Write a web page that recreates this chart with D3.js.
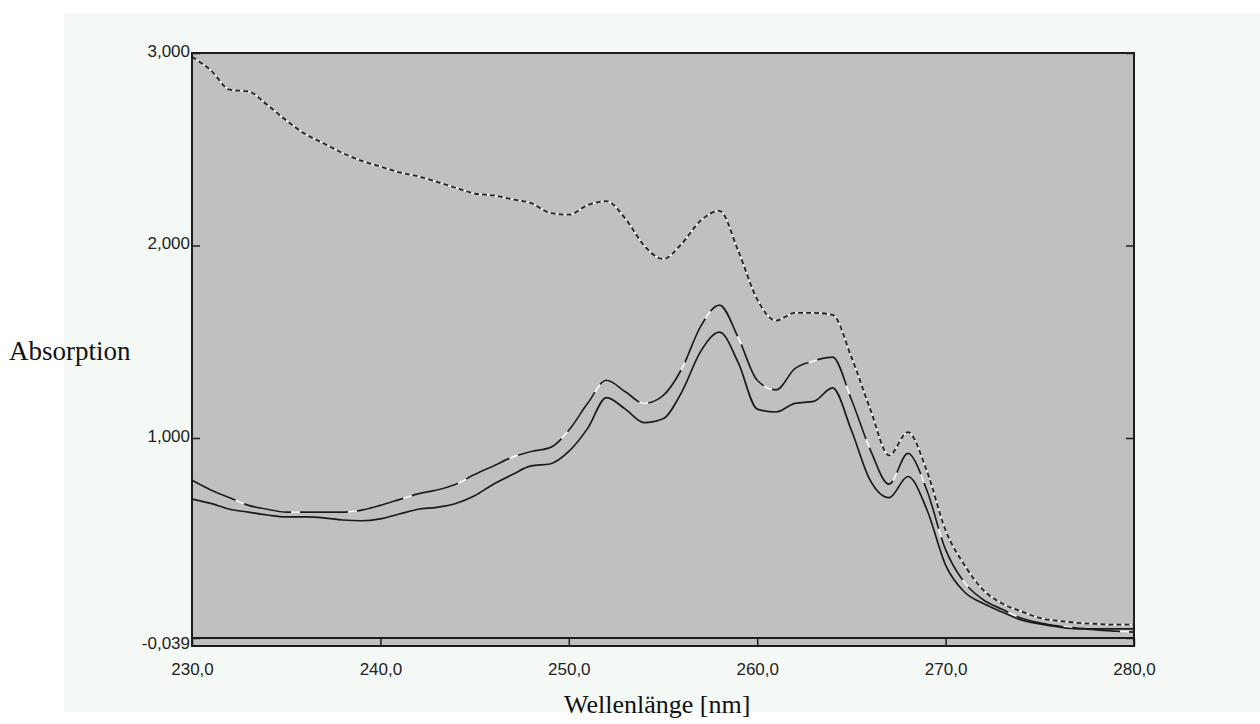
<!DOCTYPE html>
<html>
<head>
<meta charset="utf-8">
<script src="https://cdn.jsdelivr.net/npm/d3@7"></script>
<style>
    body { margin: 0; background: #ffffff; }
    .axis text { font-family: "Liberation Sans", Arial, sans-serif; font-size: 17px; fill: #222; }
    .axis line { stroke: #1c1c1c; stroke-width: 1.5; }
    .axis path { display: none; }
    .title { font-family: "Liberation Serif", "Times New Roman", serif; font-size: 26px; fill: #111; }
</style>
</head>
<body>
<div id="chart"></div>
<script>
// wavelength in nm, one point per nm
var wavelengths = [230, 231, 232, 233, 234, 235, 236, 237, 238, 239,
                   240, 241, 242, 243, 244, 245, 246, 247, 248, 249,
                   250, 251, 252, 253, 254, 255, 256, 257, 258, 259,
                   260, 261, 262, 263, 264, 265, 266, 267, 268, 269,
                   270, 271, 272, 273, 274, 275, 276, 277, 278, 279, 280];

// dotted upper curve
var absorptionTop = [2.98, 2.91, 2.81, 2.80, 2.73, 2.65, 2.58, 2.53, 2.48, 2.44,
                     2.41, 2.38, 2.36, 2.33, 2.30, 2.27, 2.26, 2.24, 2.22, 2.17,
                     2.16, 2.21, 2.23, 2.14, 2.00, 1.93, 2.01, 2.13, 2.18, 1.97,
                     1.72, 1.61, 1.65, 1.65, 1.64, 1.42, 1.15, 0.91, 1.03, 0.83,
                     0.52, 0.34, 0.21, 0.14, 0.10, 0.065, 0.05, 0.04, 0.034, 0.03, 0.03];

// middle curve
var absorptionMid = [0.78, 0.73, 0.69, 0.65, 0.63, 0.615, 0.615, 0.615, 0.615, 0.625,
                     0.65, 0.68, 0.71, 0.73, 0.76, 0.81, 0.855, 0.90, 0.93, 0.95,
                     1.04, 1.18, 1.30, 1.24, 1.18, 1.22, 1.36, 1.58, 1.69, 1.52,
                     1.30, 1.25, 1.36, 1.40, 1.42, 1.20, 0.94, 0.76, 0.92, 0.73,
                     0.42, 0.25, 0.16, 0.11, 0.065, 0.04, 0.023, 0.013, 0.003, -0.003, -0.008];

// lower curve
var absorptionLow = [0.683, 0.66, 0.63, 0.615, 0.60, 0.59, 0.59, 0.585, 0.574, 0.57,
                     0.58, 0.605, 0.63, 0.64, 0.66, 0.70, 0.76, 0.81, 0.855, 0.865,
                     0.93, 1.05, 1.21, 1.15, 1.08, 1.10, 1.24, 1.45, 1.55, 1.39,
                     1.15, 1.135, 1.18, 1.19, 1.26, 1.04, 0.78, 0.69, 0.80, 0.63,
                     0.34, 0.20, 0.14, 0.096, 0.055, 0.034, 0.018, 0.008, 0.008, 0.008, 0.008];

var yTicks = [-0.039, 1, 2, 3];
var xTicks = [230, 240, 250, 260, 270, 280];

function init() {
    var w = 1260;
    var h = 724;

    var left = 192, right = 1134, top = 53, bottom = 638, strip = 8;

    var locale = d3.formatLocale({decimal: ",", thousands: ".", grouping: [3], currency: ["", ""], minus: "-"});

    var xScale = d3.scaleLinear()
                   .domain([230, 280])
                   .range([left, right]);

    var yScale = d3.scaleLinear()
                   .domain([-0.039, 3])
                   .range([bottom, top]);

    var svg = d3.select("#chart")
                .append("svg")
                .attr("width", w)
                .attr("height", h);

    //panel background
    svg.append("rect")
        .attr("x", 64).attr("y", 13)
        .attr("width", w - 64).attr("height", 712 - 13)
        .attr("fill", "#f5f9f6");

    //plot area
    svg.append("rect")
        .attr("x", left).attr("y", top)
        .attr("width", right - left).attr("height", bottom + strip - top)
        .attr("fill", "#c0c0c0");

    svg.append("clipPath")
        .attr("id", "clip")
        .append("rect")
        .attr("x", left).attr("y", top)
        .attr("width", right - left).attr("height", bottom - top);

    var data = wavelengths.map(function(d, i) {
        return {wl: d, top: absorptionTop[i], mid: absorptionMid[i], low: absorptionLow[i]};
    });

    function lineFor(key) {
        return d3.line()
                 .x(function(d) { return xScale(d.wl); })
                 .y(function(d) { return yScale(d[key]); })
                 .curve(d3.curveMonotoneX);
    }

    var g = svg.append("g").attr("clip-path", "url(#clip)");

    //dotted curve: white under black dashes
    g.append("path").datum(data)
        .attr("d", lineFor("top"))
        .attr("fill", "none").attr("stroke", "#ffffff").attr("stroke-width", 1.4);
    g.append("path").datum(data)
        .attr("d", lineFor("top"))
        .attr("fill", "none").attr("stroke", "#222").attr("stroke-width", 1.8)
        .attr("stroke-dasharray", "5,3");

    //middle curve, black with white breaks
    g.append("path").datum(data)
        .attr("d", lineFor("mid"))
        .attr("fill", "none").attr("stroke", "#ffffff").attr("stroke-width", 1.4);
    g.append("path").datum(data)
        .attr("d", lineFor("mid"))
        .attr("fill", "none").attr("stroke", "#1a1a1a").attr("stroke-width", 1.7)
        .attr("stroke-dasharray", "48,9");

    //lower curve
    g.append("path").datum(data)
        .attr("d", lineFor("low"))
        .attr("fill", "none").attr("stroke", "#1a1a1a").attr("stroke-width", 1.7);

    //setup axis
    var yAxis = d3.axisLeft(yScale)
                  .tickValues(yTicks)
                  .tickSizeInner(-8)
                  .tickSizeOuter(0)
                  .tickPadding(2)
                  .tickFormat(locale.format(".3f"));

    var yAxisRight = d3.axisRight(yScale)
                       .tickValues(yTicks)
                       .tickSizeInner(-8)
                       .tickSizeOuter(0)
                       .tickFormat("");

    var xAxis = d3.axisBottom(xScale)
                  .tickValues(xTicks)
                  .tickSizeInner(strip)
                  .tickSizeOuter(0)
                  .tickPadding(17)
                  .tickFormat(locale.format(".1f"));

    var gy = svg.append("g")
        .attr("class", "axis")
        .attr("transform", "translate(" + left + ",0)")
        .call(yAxis);
    gy.selectAll("text").attr("dy", function(d) { return d < 0 ? "0.62em" : "0.2em"; });

    svg.append("g")
        .attr("class", "axis")
        .attr("transform", "translate(" + right + ",0)")
        .call(yAxisRight);

    svg.append("g")
        .attr("class", "axis")
        .attr("transform", "translate(0," + bottom + ")")
        .call(xAxis);

    //frame
    svg.append("rect")
        .attr("x", left).attr("y", top)
        .attr("width", right - left).attr("height", bottom + strip - top)
        .attr("fill", "none").attr("stroke", "#1c1c1c").attr("stroke-width", 2);
    svg.append("line")
        .attr("x1", left).attr("x2", right)
        .attr("y1", bottom).attr("y2", bottom)
        .attr("stroke", "#1c1c1c").attr("stroke-width", 2);

    //axis titles
    svg.append("text")
        .attr("class", "title")
        .attr("x", 9).attr("y", 360)
        .style("font-size", "27px")
        .text("Absorption");

    svg.append("text")
        .attr("class", "title")
        .attr("x", 564).attr("y", 713)
        .text("Wellenlänge [nm]");
}
window.onload = init;
</script>
</body>
</html>
